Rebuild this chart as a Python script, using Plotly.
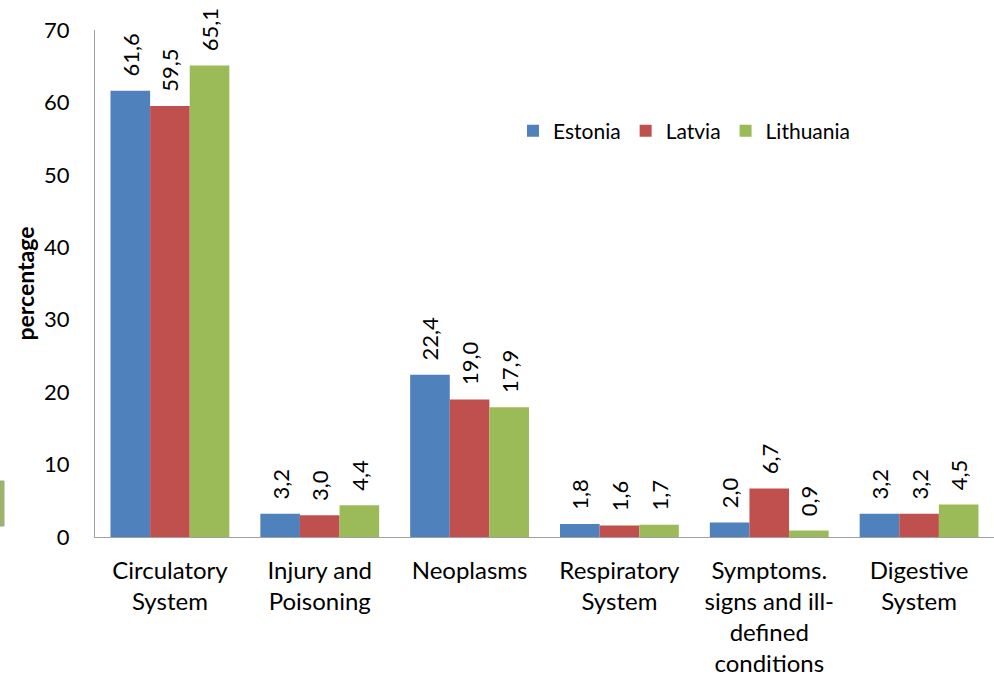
import plotly.graph_objects as go

categories = ["Circulatory<br>System", "Injury and<br>Poisoning", "Neoplasms",
              "Respiratory<br>System", "Symptoms.<br>signs and ill-<br>defined<br>conditions",
              "Digestive<br>System"]
estonia = [61.6, 3.2, 22.4, 1.8, 2.0, 3.2]
latvia = [59.5, 3.0, 19.0, 1.6, 6.7, 3.2]
lithuania = [65.1, 4.4, 17.9, 1.7, 0.9, 4.5]
series_names = ["Estonia", "Latvia", "Lithuania"]
colors = ["#4F81BD", "#C0504D", "#9BBB59"]
y_ticks = [0, 10, 20, 30, 40, 50, 60, 70]

FONT = "Lato, Calibri, Arial, sans-serif"

fig = go.Figure()
for name, vals, col in zip(series_names, [estonia, latvia, lithuania], colors):
    fig.add_trace(go.Bar(
        name=name, x=categories, y=vals,
        marker=dict(color=col, line=dict(width=0)),
        texttemplate="\u00a0\u00a0%{y:.1f}",
        textposition="outside", textangle=-90,
        constraintext="none",
        textfont=dict(family=FONT, size=22, color="#000000"),
        cliponaxis=False,
    ))

L, R, T, B = 95, 0, 30, 143
PW, PH = 994 - L - R, 680 - T - B

fig.update_layout(
    width=994, height=680,
    margin=dict(l=L, r=R, t=T, b=B, autoexpand=False),
    paper_bgcolor="white", plot_bgcolor="white",
    barmode="group", bargap=0.207, bargroupgap=0,
    separators=",.",
    font=dict(family=FONT, size=20, color="#000000"),
    showlegend=True,
    legend=dict(orientation="h", x=(513 - L) / PW, xanchor="left", y=(537 - 131) / PH,
                yanchor="middle",
                font=dict(family=FONT, size=21, color="#000000"),
                bgcolor="rgba(0,0,0,0)", itemwidth=30, traceorder="normal"),
    xaxis=dict(showline=True, linecolor="#A0A0A0", linewidth=1, showgrid=False,
               ticks="", tickfont=dict(family=FONT, size=24, color="#000000"),
               ticklabelstandoff=12, automargin=False, fixedrange=True),
    yaxis=dict(range=[0, 70], tickvals=y_ticks, showline=True, linecolor="#A0A0A0",
               linewidth=1, showgrid=False, zeroline=False, ticks="",
               tickfont=dict(family=FONT, size=22, color="#000000"),
               ticklabelstandoff=20, automargin=False,
               title=dict(text="<b>percentage</b>", font=dict(family=FONT, size=23, color="#000000"),
                          standoff=3)),
    uniformtext=dict(mode=False),
)

# cropped fragment of a neighbouring chart at the left edge
fig.add_shape(type="rect", xref="paper", yref="paper",
              x0=-L / PW, x1=(4 - L) / PW, y0=(537 - 526) / PH, y1=(537 - 481) / PH,
              fillcolor="#9BBB59", line=dict(color="#A0A0A0", width=1))

fig.write_html("out.html", config={"displayModeBar": False},
               post_script="document.body.style.margin='0';document.body.style.padding='0';")
